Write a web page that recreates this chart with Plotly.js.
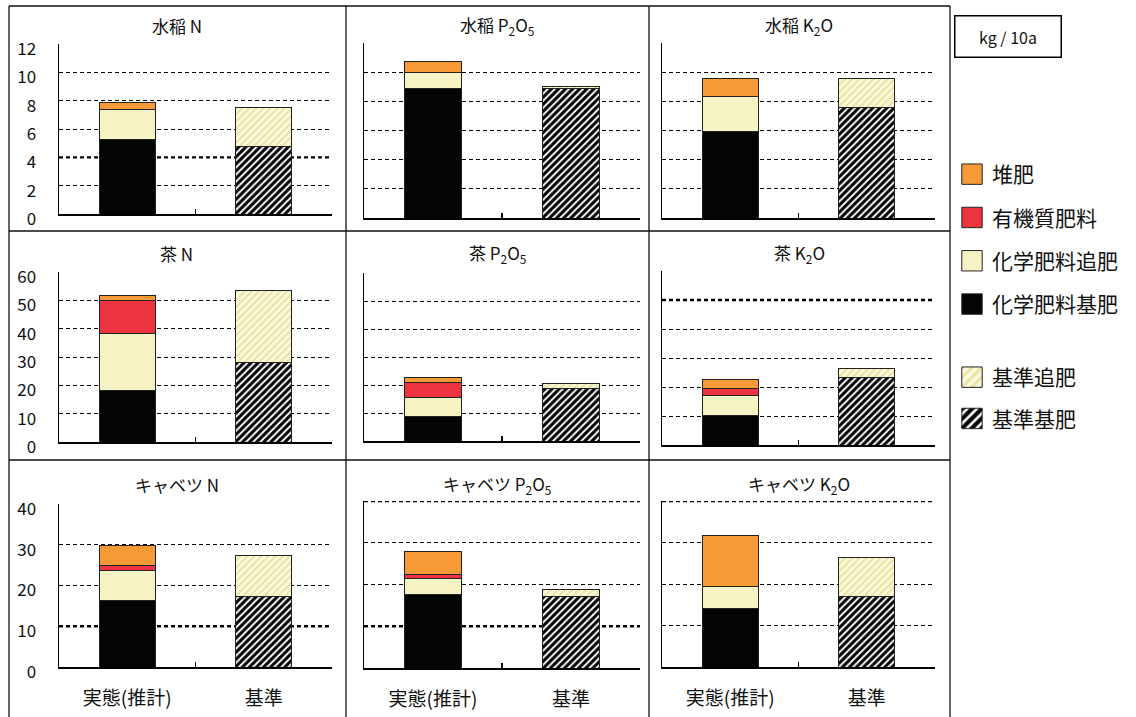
<!DOCTYPE html>
<html>
<head>
<meta charset="utf-8">
<script src="https://cdn.plot.ly/plotly-3.0.1.min.js"></script>
<style>
  html, body { margin:0; padding:0; background:#fff; }
  #chart { width:1136px; height:717px; }
</style>
</head>
<body>
<div id="chart"></div>
<script>
// ---------------- DATA (kg / 10a) ----------------
const categories = ['実態(推計)', '基準'];
const panelTitles = [
  '水稲 N', '水稲 P<sub>2</sub>O<sub>5</sub>', '水稲 K<sub>2</sub>O',
  '茶 N', '茶 P<sub>2</sub>O<sub>5</sub>', '茶 K<sub>2</sub>O',
  'キャベツ N', 'キャベツ P<sub>2</sub>O<sub>5</sub>', 'キャベツ K<sub>2</sub>O'
];
// 実態(推計) stack
const chemBase  = [5.25, 8.9, 5.9, 18.2, 8.8, 10.2, 16.2, 17.5, 14.0]; // 化学肥料基肥
const chemTop   = [2.15, 1.1, 2.4, 20.1, 6.7, 6.9, 7.6, 3.9, 5.5];     // 化学肥料追肥
const organic   = [0, 0, 0, 11.5, 5.5, 2.4, 1.0, 0.9, 0];              // 有機質肥料
const compost   = [0.5, 0.7, 1.3, 1.8, 1.6, 3.0, 5.1, 5.6, 12.1];      // 堆肥
// 基準 stack
const stdBase   = [4.75, 8.85, 7.6, 28.1, 18.6, 23.4, 17.2, 17.1, 17.1]; // 基準基肥
const stdTop    = [2.8, 0.15, 2.0, 25.4, 2.1, 3.1, 10.1, 1.6, 9.3];      // 基準追肥
// axis maxima and tick steps per panel
const yMax      = [12, 12, 12, 60, 60, 60, 40, 40, 40];
const yStep     = [2, 2, 2, 10, 10, 10, 10, 10, 10];
// emphasised (bold dotted) reference levels per panel
const refLines  = [[4], [], [], [], [], [50], [10], [40, 10], [40]];
const unitLabel = 'kg / 10a';

// ---------------- LAYOUT GEOMETRY (pixels) ----------------
const W = 1136, H = 717;
const colX = [[59, 332], [364, 640], [662, 935]];
const panelY = [[44, 214], [43, 218], [43, 218],
                [272, 442], [273, 441], [271, 445],
                [504, 667], [501, 668], [501, 667]];
const FONT = '"Noto Sans CJK JP", "Noto Sans", sans-serif';

const series = [
  {name: '化学肥料基肥', vals: chemBase, cat: 0, color: '#020502', leg: 'legend',  rank: 4},
  {name: '化学肥料追肥', vals: chemTop,  cat: 0, color: '#f6f4c4', leg: 'legend',  rank: 3},
  {name: '有機質肥料',   vals: organic,  cat: 0, color: '#ee3340', leg: 'legend',  rank: 2},
  {name: '堆肥',         vals: compost,  cat: 0, color: '#f69a38', leg: 'legend',  rank: 1},
  {name: '基準基肥',     vals: stdBase,  cat: 1, color: '#ffffff', leg: 'legend2', rank: 6,
     pattern: {shape: '/', fgcolor: '#050505', bgcolor: '#ffffff', size: 5, solidity: 0.62}},
  {name: '基準追肥',     vals: stdTop,   cat: 1, color: '#fbf9da', leg: 'legend2', rank: 5,
     pattern: {shape: '/', fgcolor: '#ebe5a2', bgcolor: '#fcfbe2', size: 5, solidity: 0.45}}
];

const traces = [];
const layout = {
  width: W, height: H,
  margin: {l: 0, r: 0, t: 0, b: 0},
  paper_bgcolor: '#fff', plot_bgcolor: 'rgba(0,0,0,0)',
  font: {family: FONT, color: '#111', size: 16},
  barmode: 'stack',
  showlegend: true,
  legend: {
    x: 952 / W, y: 1 - 154 / H, xanchor: 'left', yanchor: 'top',
    font: {size: 21, family: FONT, color: '#111'},
    traceorder: 'grouped', tracegroupgap: 13, bgcolor: 'rgba(0,0,0,0)',
    itemclick: false, itemdoubleclick: false
  },
  legend2: {
    x: 952 / W, y: 1 - 357 / H, xanchor: 'left', yanchor: 'top',
    font: {size: 21, family: FONT, color: '#111'},
    traceorder: 'grouped', tracegroupgap: 11, bgcolor: 'rgba(0,0,0,0)',
    itemclick: false, itemdoubleclick: false
  },
  annotations: [],
  shapes: []
};

for (let i = 0; i < 9; i++) {
  const n = i === 0 ? '' : String(i + 1);
  const col = i % 3, row = Math.floor(i / 3);
  const xa = 'x' + n, ya = 'y' + n;
  const [pt, pb] = panelY[i];
  layout['xaxis' + n] = {
    type: 'category', categoryorder: 'array', categoryarray: categories,
    range: [-0.5, 1.5],
    domain: [colX[col][0] / W, colX[col][1] / W],
    anchor: ya,
    showline: true, linecolor: '#000', linewidth: 1.5,
    showgrid: false, zeroline: false,
    ticks: 'inside', tickson: 'boundaries', ticklen: 5, tickcolor: '#000', tickwidth: 1.2,
    showticklabels: row === 2,
    tickfont: {size: 19, family: FONT, color: '#111'},
    ticklabelstandoff: 14,
    fixedrange: true
  };
  layout['yaxis' + n] = {
    range: [0, yMax[i]],
    dtick: yStep[i], tick0: 0,
    domain: [1 - pb / H, 1 - pt / H],
    anchor: xa,
    showline: true, linecolor: '#000', linewidth: 1.5,
    showgrid: true, gridcolor: '#000', gridwidth: 1, griddash: '4px,3px',
    zeroline: false,
    ticks: '',
    showticklabels: col === 0,
    tickfont: {size: 17, family: FONT, color: '#111'},
    ticklabelstandoff: 18,
    ticklabelshift: 5,
    fixedrange: true
  };
  series.forEach(s => {
    const v = s.vals[i];
    const marker = {color: s.color, line: {color: '#222', width: 1}};
    if (s.pattern) marker.pattern = Object.assign({fillmode: 'replace'}, s.pattern);
    traces.push({
      type: 'bar',
      x: [categories[s.cat]],
      y: [v > 0 ? v : null],
      name: s.name,
      xaxis: xa, yaxis: ya,
      width: 0.41,
      marker: marker,
      legend: s.leg,
      legendgroup: s.name,
      legendrank: s.rank,
      showlegend: i === 0,
      hoverinfo: 'skip'
    });
  });
  refLines[i].forEach(v => {
    layout.shapes.push({
      type: 'line', layer: 'below',
      xref: xa + ' domain', x0: 0, x1: 1,
      yref: ya, y0: v, y1: v,
      line: {color: '#000', width: 2.4, dash: '4px,3px'}
    });
  });
}

// subplot titles (centred in each framed cell)
const cellCx = [177, 497, 799];
const titleY = [25, 254, 484];
panelTitles.forEach((t, i) => {
  layout.annotations.push({
    text: t, xref: 'paper', yref: 'paper',
    x: cellCx[i % 3] / W, y: 1 - titleY[Math.floor(i / 3)] / H,
    xanchor: 'center', yanchor: 'middle', showarrow: false,
    font: {size: 17, family: FONT, color: '#111'}
  });
});

// unit box
layout.annotations.push({
  text: unitLabel, xref: 'paper', yref: 'paper',
  x: 1007.5 / W, y: 1 - 36 / H, xanchor: 'center', yanchor: 'middle',
  showarrow: false, width: 105, height: 40,
  bordercolor: '#000', borderwidth: 1.5, borderpad: 0,
  font: {size: 16, family: FONT, color: '#111'}
});

// frame lines
function pline(x0, y0, x1, y1) {
  layout.shapes.push({type: 'line', xref: 'paper', yref: 'paper',
    x0: x0 / W, x1: x1 / W, y0: 1 - y0 / H, y1: 1 - y1 / H,
    line: {color: '#111', width: 1.3}});
}
pline(9, 6, 950, 6);
pline(9, 6, 9, 717);
pline(950, 6, 950, 717);
pline(346, 6, 346, 717);
pline(649, 6, 649, 717);
pline(9, 231, 950, 231);
pline(9, 460, 950, 460);

function enlargeLegendIcons() {
  document.querySelectorAll('.legendpoints path').forEach(p => {
    p.setAttribute('transform', 'translate(20,0) scale(1.7)');
    p.style.vectorEffect = 'non-scaling-stroke';
  });
}

Plotly.newPlot('chart', traces, layout, {displayModeBar: false, staticPlot: true})
  .then(gd => { enlargeLegendIcons(); gd.on && gd.on('plotly_afterplot', enlargeLegendIcons); });
</script>
</body>
</html>
